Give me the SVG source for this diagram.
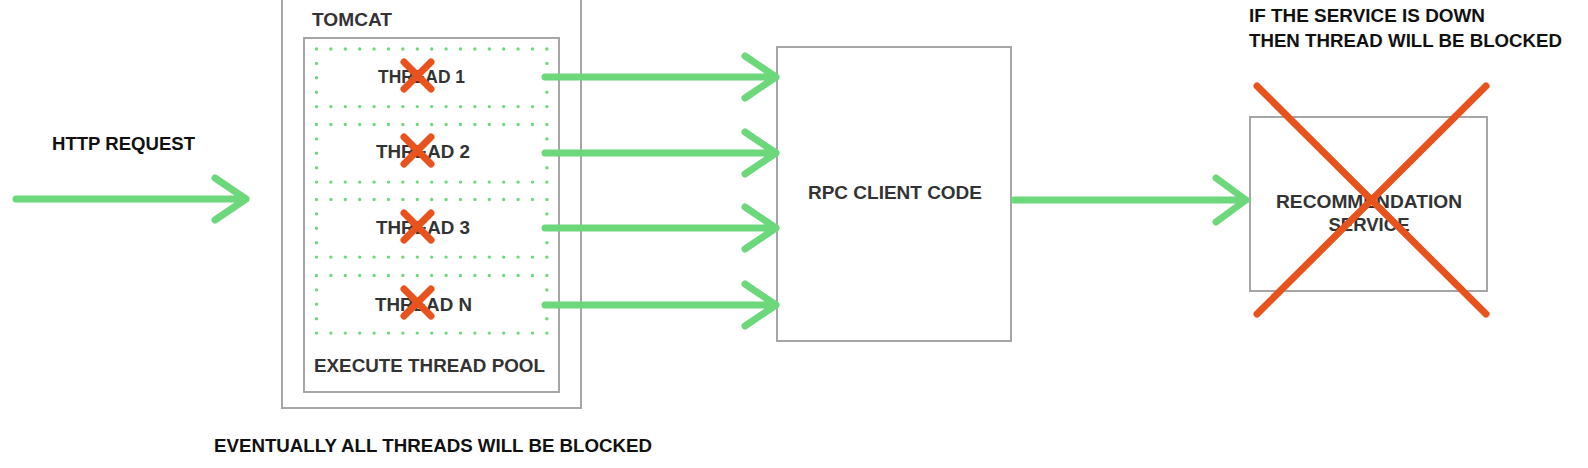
<svg xmlns="http://www.w3.org/2000/svg" width="1588" height="468" viewBox="0 0 1588 468">
<style>
.box{fill:#fff;stroke:#a6a6a6;stroke-width:2}
.dots{fill:none;stroke:#6fd97e;stroke-width:3.4;stroke-linecap:round;stroke-dasharray:0 14.4}
.arr{fill:none;stroke:#6dd87b;stroke-width:7;stroke-linecap:round;stroke-linejoin:round}
.x{fill:none;stroke:#e8531d;stroke-width:7;stroke-linecap:round}
.t{font-family:"Liberation Sans",Arial,sans-serif;font-weight:bold;font-size:18px;fill:#333}
.k{fill:#111}
</style>
<rect width="1588" height="468" fill="#fff"/>
<g id="tomcat">
<rect class="box" x="282" y="-4" width="299" height="412"/>
<text class="t" x="312" y="26" textLength="80" lengthAdjust="spacingAndGlyphs">TOMCAT</text>
</g>
<g id="pool">
<rect class="box" x="304" y="38" width="255" height="354" stroke="#9a9a9a"/>
<text class="t" x="314" y="372" textLength="231" lengthAdjust="spacingAndGlyphs">EXECUTE THREAD POOL</text>
</g>
<g id="thread1">
<rect class="dots" x="316.5" y="49" width="230.4" height="57.6"/>
<text class="t" x="421.5" y="83" text-anchor="middle" textLength="87" lengthAdjust="spacingAndGlyphs">THREAD 1</text>
<path class="x" d="M404 62L431 89M431 62L404 89"/>
</g>
<g id="thread2">
<rect class="dots" x="316.5" y="124.5" width="230.4" height="57.6"/>
<text class="t" x="423" y="158" text-anchor="middle" textLength="94" lengthAdjust="spacingAndGlyphs">THREAD 2</text>
<path class="x" d="M404 137L431 164M431 137L404 164"/>
</g>
<g id="thread3">
<rect class="dots" x="316.5" y="199.5" width="230.4" height="57.6"/>
<text class="t" x="423" y="234" text-anchor="middle" textLength="94" lengthAdjust="spacingAndGlyphs">THREAD 3</text>
<path class="x" d="M404 213L431 240M431 213L404 240"/>
</g>
<g id="threadN">
<rect class="dots" x="316.5" y="275.5" width="230.4" height="57.6"/>
<text class="t" x="423.5" y="311" text-anchor="middle" textLength="97" lengthAdjust="spacingAndGlyphs">THREAD N</text>
<path class="x" d="M404 289L431 316M431 289L404 316"/>
</g>
<g id="rpc">
<rect class="box" x="777" y="47" width="234" height="294"/>
<text class="t" x="895" y="199" text-anchor="middle" textLength="174" lengthAdjust="spacingAndGlyphs">RPC CLIENT CODE</text>
</g>
<g id="recommendation">
<rect class="box" x="1250" y="117" width="237" height="174"/>
<text class="t" x="1369" y="208" text-anchor="middle" textLength="186" lengthAdjust="spacingAndGlyphs">RECOMMENDATION</text>
<text class="t" x="1369" y="231" text-anchor="middle" textLength="81" lengthAdjust="spacingAndGlyphs">SERVICE</text>
<path class="x" d="M1257 86L1486 314M1486 86L1257 314"/>
</g>
<g id="labels">
<text class="t k" x="52" y="150" textLength="143" lengthAdjust="spacingAndGlyphs">HTTP REQUEST</text>
<text class="t k" x="214" y="452" textLength="438" lengthAdjust="spacingAndGlyphs">EVENTUALLY ALL THREADS WILL BE BLOCKED</text>
<text class="t k" x="1249" y="22" textLength="236" lengthAdjust="spacingAndGlyphs">IF THE SERVICE IS DOWN</text>
<text class="t k" x="1249" y="47" textLength="313" lengthAdjust="spacingAndGlyphs">THEN THREAD WILL BE BLOCKED</text>
</g>
<g id="connectors">
<path class="arr" d="M16 199H246M215 178L246 199L215 220"/>
<path class="arr" d="M545 77H776M745 56L776 77L745 98"/>
<path class="arr" d="M545 153H776M745 132L776 153L745 174"/>
<path class="arr" d="M545 228H776M745 207L776 228L745 249"/>
<path class="arr" d="M545 305H776M745 284L776 305L745 326"/>
<path class="arr" d="M1014 200H1246M1216 178L1246 200L1216 222"/>
</g>
</svg>
